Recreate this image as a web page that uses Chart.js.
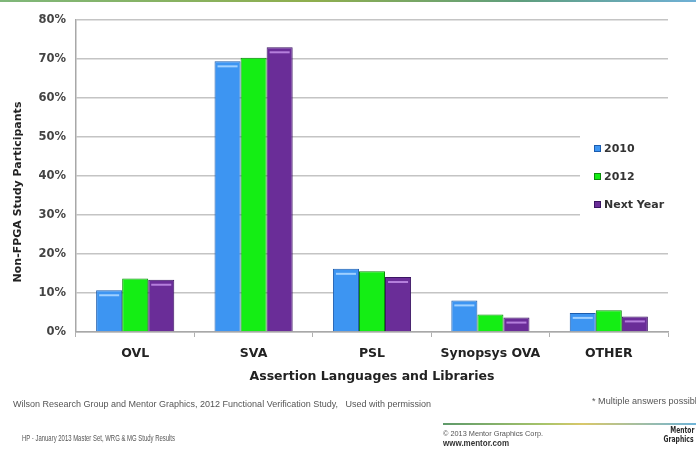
<!DOCTYPE html>
<html>
<head>
<meta charset="utf-8">
<script src="https://cdn.jsdelivr.net/npm/chart.js@4"></script>
<style>
  html, body { margin: 0; padding: 0; background: #fff; }
  #wrap { position: relative; width: 696px; height: 450px; overflow: hidden; background: #fff; }
  #chart { position: absolute; left: 0; top: 0; }
  .topbar { position: absolute; left: 0; top: 0; width: 696px; height: 2px;
    background: linear-gradient(to right, #7fb77a, #8fae4e 45%, #5f9e7e 75%, #6fb0d6); }
  .rule { position: absolute; left: 443px; top: 423px; width: 253px; height: 2px;
    background: linear-gradient(to right, #5e9a6a, #a8c46a 40%, #d9c86a 55%, #6fb4d8); }
  .ft { position: absolute; white-space: nowrap; color: #555; font-family: "Liberation Sans", Arial, sans-serif;
    transform-origin: 0 50%; line-height: 1; }
  .logo { position: absolute; font-family: "DejaVu Sans", sans-serif; font-weight: bold;
    color: #2a2a2a; line-height: 1; white-space: nowrap; transform-origin: 100% 50%; }
</style>
</head>
<body>
<div id="wrap">
  <canvas id="chart" width="696" height="450"></canvas>
  <div class="topbar"></div>
  <div class="ft" data-w="418" style="left:13px; top:400px; font-size:9px;">Wilson Research Group and Mentor Graphics, 2012 Functional Verification Study,&nbsp;&nbsp;&nbsp;Used with permission</div>
  <div class="ft" data-w="110" style="left:592px; top:397px; font-size:9px;">* Multiple answers possible</div>
  <div class="rule"></div>
  <div class="ft" data-w="100" style="left:443px; top:430px; font-size:8px;">© 2013 Mentor Graphics Corp.</div>
  <div class="ft" data-w="66" style="left:443px; top:439px; font-size:8.5px; font-weight:bold; color:#333;">www.mentor.com</div>
  <div class="ft" data-w="153" style="left:22px; top:434px; font-size:9px;">HP - January 2013 Master Set, WRG &amp; MG Study Results</div>
  <div class="logo" data-w="24" style="right:2px; top:427px; font-size:8px;">Mentor</div>
  <div class="logo" data-w="30" style="right:2px; top:435px; font-size:9px;">Graphics</div>
</div>
<script>
// Assertion language usage among non-FPGA study participants (%)
const categories = ['OVL', 'SVA', 'PSL', 'Synopsys OVA', 'OTHER'];
const seriesNames = ['2010', '2012', 'Next Year'];
const values2010 = [10.7, 69.4, 16.2, 8.1, 4.9];
const values2012 = [13.7, 70.3, 15.6, 4.5, 5.6];
const valuesNextYear = [13.4, 73.0, 14.1, 3.7, 4.0];
const yTickValues = [0, 10, 20, 30, 40, 50, 60, 70, 80];

const fills = ['#3d95f2', '#14ee14', '#6a2d98'];
const edges = ['#1c5cad', '#0b8a0b', '#3b1562'];
const shines = ['#9fd0ff', null, '#b57fdc'];

const boldFont = '"DejaVu Sans", Verdana, sans-serif';

// Legend drawn inside the plot, on a white panel that hides the grid behind it
const insideLegend = {
  id: 'insideLegend',
  beforeDatasetsDraw(chart) {
    const ctx = chart.ctx;
    ctx.save();
    ctx.fillStyle = '#ffffff';
    ctx.fillRect(580, 122, 100, 106);
    ctx.restore();
  },
  afterDatasetsDraw(chart) {
    const ctx = chart.ctx;
    ctx.save();
    // light stripe near the top of each bar
    chart.data.datasets.forEach((ds, i) => {
      if (!shines[i]) return;
      chart.getDatasetMeta(i).data.forEach(bar => {
        const w = bar.width;
        const x0 = bar.x - w / 2 + 3;
        const y0 = Math.min(bar.y, bar.base) + 4;
        if (Math.abs(bar.base - bar.y) < 8) return;
        ctx.fillStyle = shines[i];
        ctx.fillRect(x0, y0, w - 6, 2);
      });
    });
    // legend entries
    const ys = [148, 176, 204];
    ctx.font = 'bold 11px ' + boldFont;
    ctx.textBaseline = 'middle';
    ctx.textAlign = 'left';
    chart.data.datasets.forEach((ds, i) => {
      ctx.fillStyle = ds.borderColor;
      ctx.fillRect(594, ys[i] - 3, 7, 7);
      ctx.fillStyle = ds.backgroundColor;
      ctx.fillRect(595, ys[i] - 2, 5, 5);
      ctx.fillStyle = '#333';
      ctx.fillText(ds.label, 604, ys[i] + 1);
    });
    ctx.restore();
  },
  afterDraw(chart) {
    // rotated y-axis title
    const ctx = chart.ctx;
    ctx.save();
    ctx.translate(18, 192);
    ctx.rotate(-Math.PI / 2);
    ctx.font = 'bold 11px ' + boldFont;
    ctx.fillStyle = '#222';
    ctx.textAlign = 'center';
    ctx.textBaseline = 'middle';
    ctx.fillText('Non-FPGA Study Participants', 0, 0);
    ctx.restore();
  }
};

new Chart(document.getElementById('chart'), {
  type: 'bar',
  data: {
    labels: categories,
    datasets: [values2010, values2012, valuesNextYear].map((vals, i) => ({
      label: seriesNames[i],
      data: vals,
      backgroundColor: fills[i],
      borderColor: edges[i],
      borderWidth: 1,
      categoryPercentage: 0.66,
      barPercentage: 1.0
    }))
  },
  options: {
    responsive: false,
    animation: false,
    devicePixelRatio: 1,
    layout: { padding: { left: 0, top: 20, right: 28, bottom: 65 } },
    plugins: { legend: { display: false }, tooltip: { enabled: false } },
    scales: {
      x: {
        afterFit(scale) { scale.height = 53; },
        grid: { offset: true, drawOnChartArea: false, drawTicks: true, tickLength: 5, color: '#b0b0b0' },
        border: { color: '#a8a8a8', width: 1.5 },
        ticks: { padding: 9, color: '#222', font: { family: boldFont, size: 12.5, weight: 'bold' } },
        title: {
          display: true,
          text: 'Assertion Languages and Libraries',
          color: '#222',
          font: { family: boldFont, size: 12.5, weight: 'bold' },
          padding: { top: 0, bottom: 1 }
        }
      },
      y: {
        min: 0, max: 80,
        afterFit(scale) { scale.width = 76; },
        afterBuildTicks(scale) { scale.ticks = yTickValues.map(v => ({ value: v })); },
        grid: { color: '#c4c4c4', lineWidth: 1.5, drawTicks: false },
        border: { color: '#a8a8a8', width: 1.5 },
        ticks: {
          padding: 10,
          color: '#444',
          font: { family: boldFont, size: 11.5, weight: 'bold' },
          callback: v => v + '%'
        }
      }
    }
  },
  plugins: [insideLegend]
});

// squeeze footer notes and logo words to their printed widths
document.querySelectorAll('.ft, .logo').forEach(el => {
  const target = parseFloat(el.dataset.w);
  const w = el.getBoundingClientRect().width;
  if (w > 0) el.style.transform = 'scaleX(' + (target / w).toFixed(3) + ')';
});
</script>
</body>
</html>
